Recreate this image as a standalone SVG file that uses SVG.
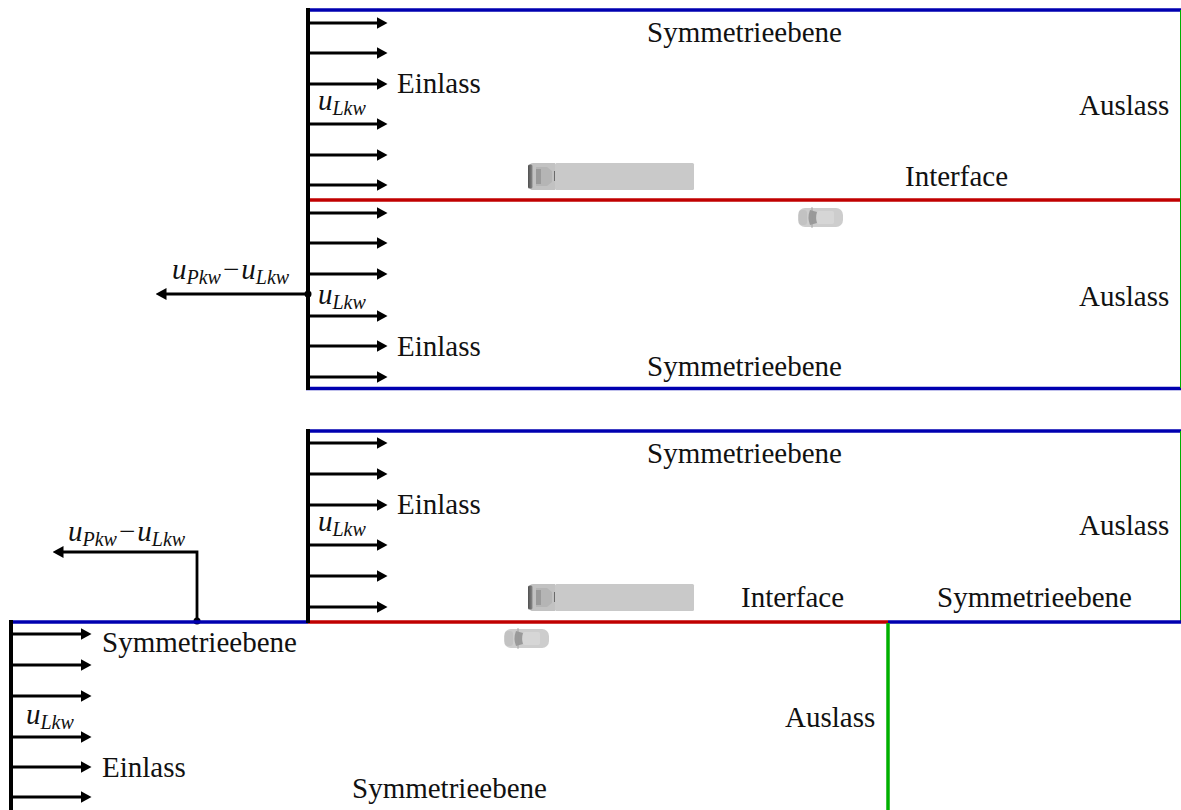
<svg xmlns="http://www.w3.org/2000/svg" width="1181" height="810" viewBox="0 0 1181 810">
  <style>
    .lbl { font-family: "Liberation Serif", "Times New Roman", serif; font-size: 29px; fill: #111; }
    .m { font-family: "Liberation Serif", "Times New Roman", serif; font-style: italic; font-size: 29px; fill: #111; }
    .sub { font-size: 20px; }
    .up { font-style: normal; }
    .sym { stroke: #0000b0; stroke-width: 3.5; fill: none; }
    .ifc { stroke: #c00000; stroke-width: 3.5; fill: none; }
    .out { stroke: #00b000; fill: none; }
    .wall { stroke: #000; stroke-width: 4; fill: none; }
    .vel { stroke: #000; stroke-width: 2.8; fill: none; marker-end: url(#head); }
  </style>
  <defs>
    <marker id="head" viewBox="0 0 11 12" markerWidth="11" markerHeight="12" refX="0.5" refY="6" orient="auto" markerUnits="userSpaceOnUse">
      <path d="M0,0 L11,6 L0,12 z" fill="#000"/>
    </marker>
    <linearGradient id="bumper" x1="0" y1="0" x2="1" y2="0">
      <stop offset="0" stop-color="#505050"/>
      <stop offset="1" stop-color="#8a8a8a"/>
    </linearGradient>
    <!-- truck seen from above, cab pointing left -->
    <g id="truck">
      <rect x="27" y="0" width="139" height="27" rx="1.5" fill="#c9c9c9"/>
      <path d="M2,2 Q2,0 5,0 L27,0 L27,27 L5,27 Q2,27 2,25 z" fill="#c2c2c2"/>
      <rect x="0" y="1.5" width="4.5" height="24" rx="1.5" fill="url(#bumper)"/>
      <path d="M8,4 L19,4 L24,8 L24,19 L19,23 L8,23 z" fill="#b5b5b5"/>
      <rect x="8" y="6" width="5" height="15" fill="#9a9a9a"/>
      <line x1="26.5" y1="8" x2="26.5" y2="18" stroke="#6a6a6a" stroke-width="1"/>
    </g>
    <!-- passenger car seen from above, front pointing left -->
    <g id="car">
      <rect x="0" y="0" width="45" height="19" rx="7" fill="#cdcdcd"/>
      <rect x="1" y="2" width="8" height="15" rx="3" fill="#c2c2c2"/>
      <path d="M12,2 Q9,9.5 12,17 L19,15 Q17,9.5 19,4 z" fill="#9a9a9a"/>
      <rect x="19" y="3" width="17" height="13" rx="2" fill="#d6d6d6"/>
      <line x1="14" y1="-1" x2="14" y2="20" stroke="#9a9a9a" stroke-width="0.8"/>
    </g>
  </defs>

  <!-- ===================== upper arrangement ===================== -->
  <g id="domain-top">
    <line class="sym" x1="306" y1="10" x2="1181" y2="10"/>
    <line class="ifc" x1="308" y1="200" x2="1181" y2="200"/>
    <line class="sym" x1="306" y1="388.5" x2="1181" y2="388.5"/>
    <line class="out" x1="1180.5" y1="10" x2="1180.5" y2="388"/>
    <line class="wall" x1="308" y1="8" x2="308" y2="390"/>
  </g>

  <g id="vehicles-top">
    <use href="#truck" x="528" y="163"/>
    <use href="#car" x="798" y="208"/>
  </g>

  <g id="labels-top">
    <text class="lbl" x="647" y="42">Symmetrieebene</text>
    <text class="lbl" x="397" y="93">Einlass</text>
    <text class="lbl" x="1079" y="115">Auslass</text>
    <text class="lbl" x="905" y="186">Interface</text>
    <text class="lbl" x="1079" y="306">Auslass</text>
    <text class="lbl" x="397" y="356">Einlass</text>
    <text class="lbl" x="647" y="376">Symmetrieebene</text>
    <text class="m" x="318" y="110">u<tspan class="sub" dy="5">Lkw</tspan></text>
    <text class="m" x="318" y="304">u<tspan class="sub" dy="5">Lkw</tspan></text>
    <text class="m" x="172" y="279">u<tspan class="sub" dy="5">Pkw</tspan><tspan class="up" dx="2" dy="-5">−</tspan><tspan dx="2">u</tspan><tspan class="sub" dy="5">Lkw</tspan></text>
  </g>

  <g id="connectors">
    <!-- inflow profile, upper arrangement -->
    <line class="vel" x1="310" y1="23" x2="377" y2="23"/>
    <line class="vel" x1="310" y1="53" x2="377" y2="53"/>
    <line class="vel" x1="310" y1="84" x2="377" y2="84"/>
    <line class="vel" x1="310" y1="124" x2="377" y2="124"/>
    <line class="vel" x1="310" y1="155" x2="377" y2="155"/>
    <line class="vel" x1="310" y1="185" x2="377" y2="185"/>
    <line class="vel" x1="310" y1="213" x2="377" y2="213"/>
    <line class="vel" x1="310" y1="243" x2="377" y2="243"/>
    <line class="vel" x1="310" y1="274" x2="377" y2="274"/>
    <line class="vel" x1="310" y1="316" x2="377" y2="316"/>
    <line class="vel" x1="310" y1="346" x2="377" y2="346"/>
    <line class="vel" x1="310" y1="377" x2="377" y2="377"/>
    <!-- relative velocity, upper arrangement -->
    <line class="vel" x1="308" y1="294" x2="166" y2="294"/>
    <circle cx="308" cy="294" r="3.5" fill="#000"/>

    <!-- inflow profile, lower arrangement (offset part) -->
    <line class="vel" x1="310" y1="443" x2="377" y2="443"/>
    <line class="vel" x1="310" y1="474" x2="377" y2="474"/>
    <line class="vel" x1="310" y1="505" x2="377" y2="505"/>
    <line class="vel" x1="310" y1="545" x2="377" y2="545"/>
    <line class="vel" x1="310" y1="576" x2="377" y2="576"/>
    <line class="vel" x1="310" y1="607" x2="377" y2="607"/>
    <!-- inflow profile, lower arrangement (left part) -->
    <line class="vel" x1="13" y1="634" x2="81" y2="634"/>
    <line class="vel" x1="13" y1="665" x2="81" y2="665"/>
    <line class="vel" x1="13" y1="696" x2="81" y2="696"/>
    <line class="vel" x1="13" y1="737" x2="81" y2="737"/>
    <line class="vel" x1="13" y1="767" x2="81" y2="767"/>
    <line class="vel" x1="13" y1="797" x2="81" y2="797"/>
    <!-- relative velocity, lower arrangement -->
    <path class="vel" d="M197,621 V552 H63"/>
    <circle cx="197" cy="621" r="3.5" fill="#000"/>
  </g>

  <!-- ===================== lower arrangement ===================== -->
  <g id="domain-bottom">
    <line class="sym" x1="306" y1="431" x2="1181" y2="431"/>
    <line class="out" x1="1180.5" y1="431" x2="1180.5" y2="622"/>
    <line class="ifc" x1="308" y1="622" x2="888" y2="622"/>
    <line class="sym" x1="888" y1="622" x2="1181" y2="622"/>
    <line class="sym" x1="9" y1="622" x2="308" y2="622"/>
    <line class="wall" x1="308" y1="429" x2="308" y2="623"/>
    <line class="wall" x1="11" y1="620" x2="11" y2="810"/>
    <line class="out" x1="888" y1="623" x2="888" y2="810" stroke-width="3.5"/>
  </g>

  <g id="vehicles-bottom">
    <use href="#truck" x="528" y="584"/>
    <use href="#car" x="504" y="629"/>
  </g>

  <g id="labels-bottom">
    <text class="lbl" x="647" y="463">Symmetrieebene</text>
    <text class="lbl" x="397" y="514">Einlass</text>
    <text class="lbl" x="1079" y="535">Auslass</text>
    <text class="lbl" x="741" y="607">Interface</text>
    <text class="lbl" x="937" y="607">Symmetrieebene</text>
    <text class="lbl" x="102" y="652">Symmetrieebene</text>
    <text class="lbl" x="785" y="727">Auslass</text>
    <text class="lbl" x="102" y="777">Einlass</text>
    <text class="lbl" x="352" y="798">Symmetrieebene</text>
    <text class="m" x="318" y="531">u<tspan class="sub" dy="5">Lkw</tspan></text>
    <text class="m" x="26" y="724">u<tspan class="sub" dy="5">Lkw</tspan></text>
    <text class="m" x="68" y="541">u<tspan class="sub" dy="5">Pkw</tspan><tspan class="up" dx="2" dy="-5">−</tspan><tspan dx="2">u</tspan><tspan class="sub" dy="5">Lkw</tspan></text>
  </g>
</svg>
